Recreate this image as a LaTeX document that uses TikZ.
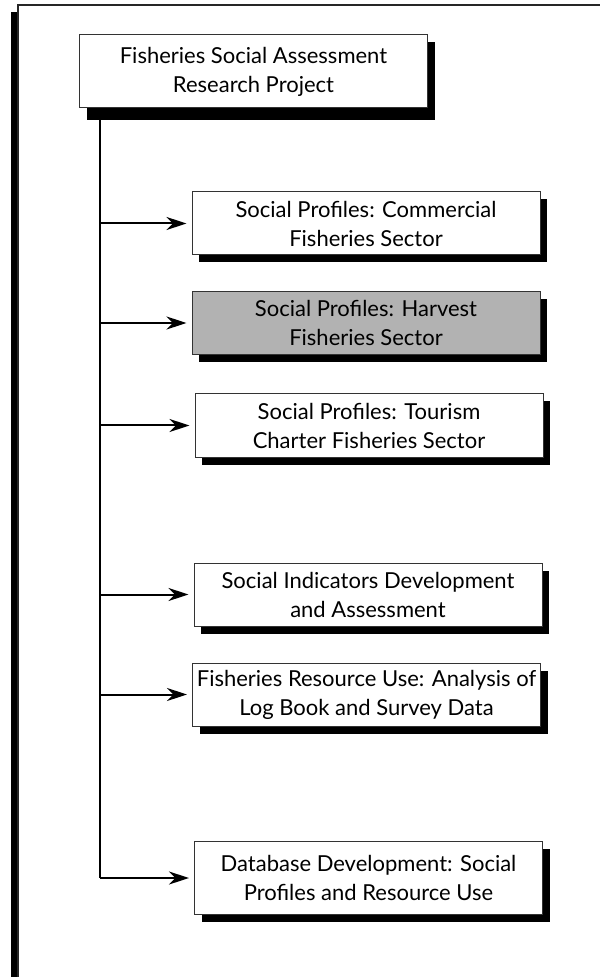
\documentclass[tikz,border=0pt]{standalone}
\usepackage{fontspec}
\setmainfont{Lato}
\usetikzlibrary{arrows.meta,shadows,calc}

\tikzset{
  sabox/.style={draw=black!80, line width=0.5pt, fill=white,
    minimum width=174pt, minimum height=31.5pt, inner sep=0pt, align=center,
    font=\fontsize{11}{14.5}\selectfont,
    drop shadow={shadow xshift=3.5pt, shadow yshift=-3.75pt, fill=black, opacity=1}},
  tallbox/.style={sabox, minimum height=36.5pt},
  feed/.style={line width=1pt, -{Stealth[length=10pt,width=6.5pt]}, shorten >=2.5pt},
}

\begin{document}
\begin{tikzpicture}[x=0.5pt, y=-0.5pt]
\useasboundingbox (0,0) rectangle (600,977);

% page frame
\fill (11,12) rectangle (18,977);
\draw[line width=0.7pt, black!85] (18,977) -- (18,5) -- (600,5);

% boxes
\node[tallbox, drop shadow={shadow xshift=3.75pt, shadow yshift=-6pt, fill=black, opacity=1}]
  (project) at (253.5,71.5) {Fisheries Social Assessment\\Research Project};
\node[sabox] (commercial) at (366,223.5) {Social Profiles: Commercial\\Fisheries Sector};
\node[sabox, fill=black!30] (harvest) at (366,323) {Social Profiles: Harvest\\Fisheries Sector};
\node[sabox] (tourism) at (369,425.5) {Social Profiles: Tourism\\Charter Fisheries Sector};
\node[sabox] (indicators) at (368,594.5) {Social Indicators Development\\and Assessment};
\node[sabox] (resource) at (366.5,694.5) {Fisheries Resource Use: Analysis of\\Log Book and Survey Data};
\node[tallbox] (database) at (368.5,878) {Database Development: Social\\Profiles and Resource Use};

% connectors
\coordinate (trunk) at ($(project.south west)+(21,0)$);
\draw[line width=1pt] (trunk) -- (trunk |- database.west);
\foreach \b in {commercial,harvest,tourism,indicators,resource,database}
  \draw[feed] (trunk |- \b.west) -- (\b.west);
\end{tikzpicture}
\end{document}
